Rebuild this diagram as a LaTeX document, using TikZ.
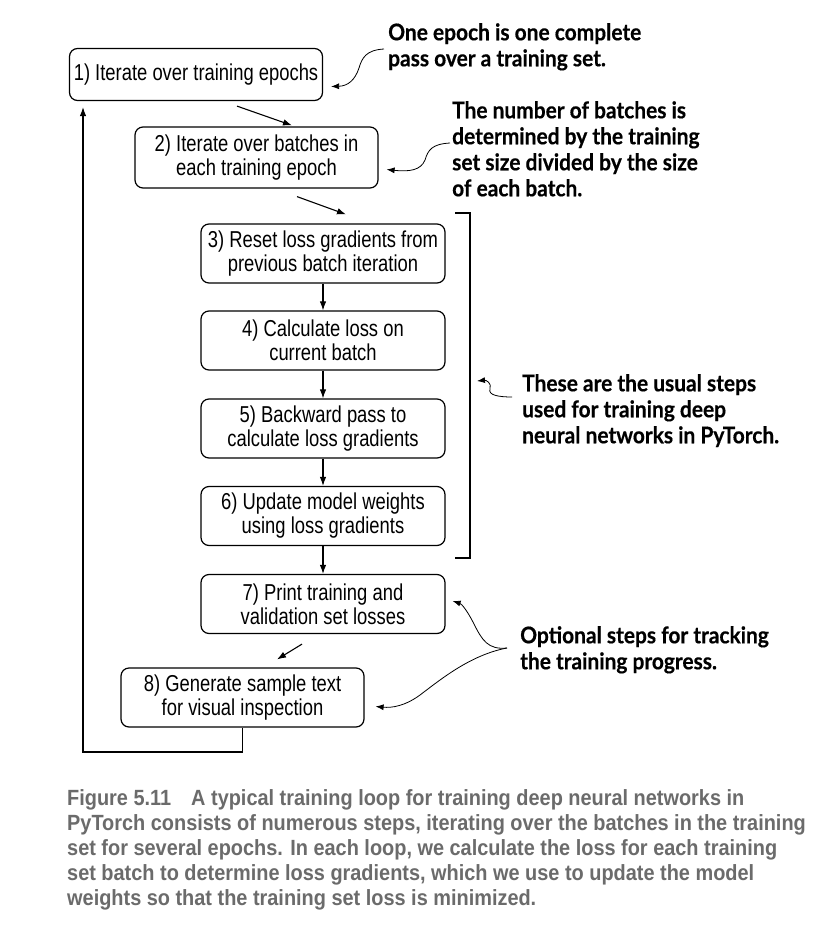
\documentclass[tikz,border=0pt]{standalone}
\usepackage{fontspec}
\setmainfont{Liberation Sans}
\newfontfamily\boxfont[FakeStretch=0.80]{Liberation Sans}
\newfontfamily\annfont[FakeStretch=0.91,FakeBold=0.4]{Lato}
\newfontfamily\capfont[FakeStretch=0.905]{Liberation Sans}
\usetikzlibrary{arrows.meta}
\definecolor{capgray}{HTML}{6B6B6B}
\begin{document}
\begin{tikzpicture}[x=1pt,y=-1pt,
  stepbox/.style={draw, rounded corners=8pt, line width=1.2pt, align=center,
    font=\boxfont\fontsize{23}{24}\selectfont, inner sep=0pt},
  arr/.style={-{Latex[length=9pt,width=6.5pt]}, line width=1.1pt},
  note/.style={font=\annfont\bfseries\fontsize{23}{26}\selectfont, align=left,
    anchor=north west, inner sep=0pt},
  curly/.style={-{Latex[length=8pt,width=6pt]}, line width=0.8pt},
  captext/.style={font=\capfont\bfseries\fontsize{22}{25}\selectfont, text=capgray,
    align=left, anchor=north west, inner sep=0pt}]
\useasboundingbox (0,0) rectangle (838,929);
\fill[white] (0,0) rectangle (838,929);

% step boxes
\node[stepbox, minimum width=253pt, minimum height=52pt] (b1) at (196,74.5) {1) Iterate over training epochs};
\node[stepbox, minimum width=243pt, minimum height=61pt] (b2) at (256.5,157.5) {2) Iterate over batches in\\each training epoch};
\node[stepbox, minimum width=244pt, minimum height=59pt] (b3) at (323,253.5) {3) Reset loss gradients from\\previous batch iteration};
\node[stepbox, minimum width=244pt, minimum height=59pt] (b4) at (323,340.5) {4) Calculate loss on\\current batch};
\node[stepbox, minimum width=244pt, minimum height=59pt] (b5) at (323,428.5) {5) Backward pass to\\calculate loss gradients};
\node[stepbox, minimum width=244pt, minimum height=59pt] (b6) at (323,516) {6) Update model weights\\using loss gradients};
\node[stepbox, minimum width=244pt, minimum height=59pt] (b7) at (323,604) {7) Print training and\\validation set losses};
\node[stepbox, minimum width=243pt, minimum height=59pt] (b8) at (242.5,697.5) {8) Generate sample text\\for visual inspection};

% connectors between steps
\draw[arr] ([xshift=41pt,yshift=-5pt]b1.south) -- ([xshift=35.5pt,yshift=1pt]b2.north);
\draw[arr] ([xshift=40.5pt,yshift=-8pt]b2.south) -- ([xshift=23pt,yshift=9pt]b3.north);
\draw[arr] (b3) -- (b4);
\draw[arr] (b4) -- (b5);
\draw[arr] (b5) -- (b6);
\draw[arr] (b6) -- (b7);
\draw[arr] ([xshift=-21pt,yshift=-10pt]b7.south) -- ([xshift=34.5pt,yshift=8pt]b8.north);

% loop back
\coordinate (loopL) at (83,752);
\draw[arr, shorten >=6pt] (b8.south) |- (loopL) -- (loopL |- b1.south);

% bracket
\coordinate (brT) at (455,213);
\coordinate (brB) at (455,558);
\draw[line width=1.1pt] (brT) -- ++(15,0) -- ([xshift=15pt]brB) -- (brB);

% annotations
\node[note] (n1) at (388,23) {One epoch is one complete\\pass over a training set.};
\node[note] (n2) at (452,101) {The number of batches is\\determined by the training\\set size divided by the size\\of each batch.};
\node[note] (n3) at (522,374) {These are the usual steps\\used for training deep\\neural networks in PyTorch.};
\node[note] (n4) at (520,626) {Optional steps for tracking\\the training progress.};

\coordinate (t1) at (384,49);
\coordinate (t2) at (450,143);
\coordinate (t3) at (512,397);
\coordinate (t4) at (507,648);
\coordinate (h3) at (477,381);

\draw[curly] (t1) .. controls (366,50) and (362,58) .. (359,68) .. controls (355,80) and (348,86) .. ([xshift=8pt,yshift=-12pt]b1.east);
\draw[curly] (t2) .. controls (432,144) and (428,150) .. (425,160) .. controls (421,170) and (410,172) .. ([xshift=8pt,yshift=-12pt]b2.east);
\draw[curly] (t3) .. controls (498,397) and (488,395) .. (490,389) .. controls (492,383) and (486,380) .. (h3);
\draw[curly] (t4) .. controls (488,650) and (482,640) .. (474,624) .. controls (468,612) and (462,604) .. ([xshift=7pt,yshift=3pt]b7.east);
\draw[curly] (t4) .. controls (470,655) and (440,680) .. (420,695) .. controls (405,706) and (392,708) .. ([xshift=11pt,yshift=-9pt]b8.east);

% caption
\node[captext] (cap) at (67,789) {Figure 5.11\hspace{20pt}A typical training loop for training deep neural networks in\\
PyTorch consists of numerous steps, iterating over the batches in the training\\
set for several epochs. In each loop, we calculate the loss for each training\\
set batch to determine loss gradients, which we use to update the model\\
weights so that the training set loss is minimized.};
\end{tikzpicture}
\end{document}
